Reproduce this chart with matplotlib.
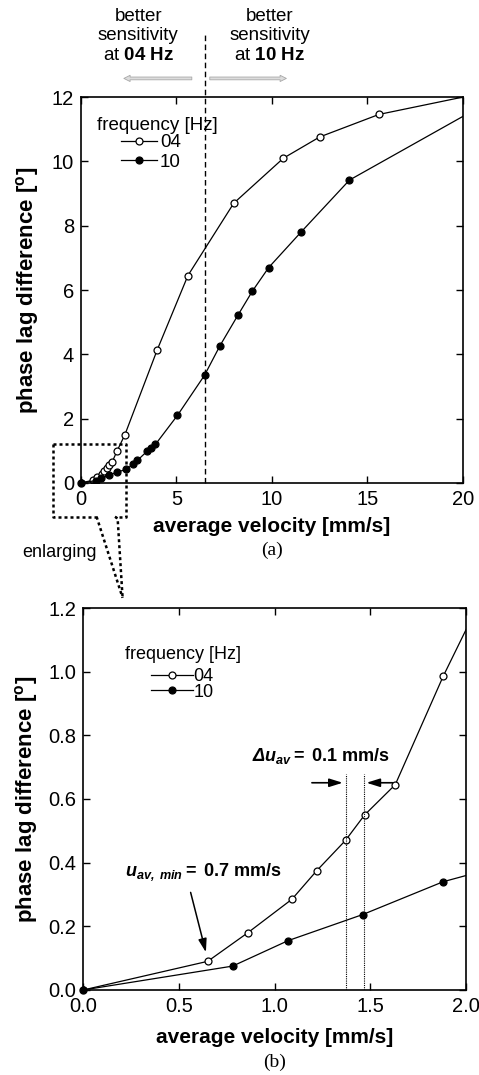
import matplotlib
matplotlib.use("Agg")
import matplotlib.pyplot as plt
from matplotlib.lines import Line2D

plt.rcParams['font.family'] = ['Liberation Sans', 'DejaVu Sans']
plt.rcParams['mathtext.fontset'] = 'custom'
plt.rcParams['mathtext.rm'] = 'Liberation Sans'
plt.rcParams['mathtext.it'] = 'Liberation Sans:italic'
plt.rcParams['mathtext.bf'] = 'Liberation Sans:bold'
plt.rcParams['mathtext.bfit'] = 'Liberation Sans:italic:bold'

# ---- data ----
vel_04 = [0.0, 0.65, 0.86, 1.09, 1.22, 1.37, 1.47, 1.63, 1.88, 2.3, 4.0, 5.6, 8.0, 10.6, 12.5, 15.6, 20.0]
lag_04 = [0.0, 0.09, 0.18, 0.285, 0.375, 0.47, 0.55, 0.645, 0.985, 1.5, 4.15, 6.45, 8.7, 10.1, 10.76, 11.46, 12.0]
vel_10 = [0.0, 0.78, 1.07, 1.46, 1.88, 2.37, 2.75, 2.95, 3.45, 3.65, 3.9, 5.05, 6.47, 7.28, 8.22, 8.98, 9.83, 11.52, 14.06, 20.0]
lag_10 = [0.0, 0.075, 0.155, 0.237, 0.34, 0.42, 0.6, 0.7, 0.98, 1.08, 1.2, 2.1, 3.35, 4.27, 5.22, 5.97, 6.7, 7.8, 9.42, 11.4]
labels = ["04", "10"]

xticks_a = [0, 5, 10, 15, 20]
yticks_a = [0, 2, 4, 6, 8, 10, 12]
xticks_b = [0.0, 0.5, 1.0, 1.5, 2.0]
yticks_b = [0.0, 0.2, 0.4, 0.6, 0.8, 1.0, 1.2]

v_crit = 6.47          # crossover velocity (dashed line)
v_pair = [1.37, 1.465]  # delta u_av vertical lines

fig = plt.figure(figsize=(4.79, 10.75), dpi=100)
axA = fig.add_axes([0.169, 0.5507, 0.7975, 0.359])
axB = fig.add_axes([0.174, 0.0791, 0.799, 0.3553])

FS = 14.5
mk = dict(markersize=5, markeredgewidth=0.9, color='black', lw=0.9)

def style(ax, xt, yt, fmt, xpad, ypad):
    ax.set_xticks(xt)
    ax.set_yticks(yt)
    ax.set_xticklabels([fmt.format(v) for v in xt])
    ax.set_yticklabels([fmt.format(v) for v in yt])
    ax.tick_params(direction='in', top=True, right=True, length=5, width=1,
                   labelsize=FS, pad=5)
    for s in ax.spines.values():
        s.set_linewidth(1.2)
    ax.set_xlabel("average velocity [mm/s]", fontsize=15, fontweight='bold',
                  labelpad=xpad)
    ax.set_ylabel(r"phase lag difference [$^{\mathbf{o}}$]", fontsize=16,
                  fontweight='bold', labelpad=ypad)

for ax in (axA, axB):
    ax.plot(vel_04, lag_04, marker='o', markerfacecolor='white',
            markevery=list(range(len(vel_04) - 1)), clip_on=True, **mk)
    ax.plot(vel_10, lag_10, marker='o', markerfacecolor='black',
            markevery=list(range(len(vel_10) - 1)), clip_on=True, **mk)

axA.set_xlim(0, 20)
axA.set_ylim(0, 12)
axB.set_xlim(0, 2)
axB.set_ylim(0, 1.2)
style(axA, xticks_a, yticks_a, "{:g}", 6, 8)
style(axB, xticks_b, yticks_b, "{:.1f}", 9, 6)

# re-draw origin markers unclipped
for ax in (axA, axB):
    ax.plot([vel_04[0]], [lag_04[0]], 'o', markerfacecolor='black', markersize=5,
            color='black', clip_on=False, zorder=5)

# legends
leg_cfg = [
    # ax, title x, title y, anchor x, anchor y, fontsize, handlelength, pad, spacing
    (axA, 0.042, 0.927, 0.105, 0.904, 13.5, 1.92, 0.16, 0.12),
    (axB, 0.110, 0.877, 0.178, 0.842, 13.0, 2.28, 0.05, -0.1),
]
for ax, tx, ty, lx, ly, fs, hl, tp, ls in leg_cfg:
    ax.text(tx, ty, "frequency [Hz]", transform=ax.transAxes, fontsize=fs,
            va='center', ha='left')
    h = [Line2D([], [], marker='o', markerfacecolor='white', **mk),
         Line2D([], [], marker='o', markerfacecolor='black', **mk)]
    ax.legend(h, labels, loc='upper left', bbox_to_anchor=(lx, ly),
              frameon=False, fontsize=fs, handlelength=hl, handletextpad=tp,
              labelspacing=ls, borderpad=0, borderaxespad=0)

# --- panel (a) annotations ---
axA.plot([v_crit, v_crit], [0, 14.0], ls=(0, (4, 2.5)), color='black', lw=1.0,
         clip_on=False)
for xc, bold in ((3.0, "04"), (9.9, "10")):
    axA.text(xc, 14.38, "better", ha='center', va='baseline', fontsize=13.5)
    axA.text(xc, 13.78, "sensitivity", ha='center', va='baseline', fontsize=13.5)
    axA.text(xc, 13.14, r"at $\mathbf{" + bold + r"\ Hz}$", ha='center',
             va='baseline', fontsize=13.5)
arr = dict(arrowstyle='simple,head_width=0.45,head_length=0.45,tail_width=0.2',
           facecolor='#dcdcdc', edgecolor='#a8a8a8', lw=0.6)
axA.annotate("", xy=(2.1, 12.58), xytext=(5.95, 12.58), arrowprops=arr,
             annotation_clip=False)
axA.annotate("", xy=(10.9, 12.58), xytext=(6.6, 12.58), arrowprops=arr,
             annotation_clip=False)

# dotted enlarging box
dot = dict(ls=(0, (1.2, 1.2)), color='black', lw=1.8, clip_on=False)
axA.plot([-1.45, 2.35, 2.35, 1.78], [1.22, 1.22, -1.05, -1.05], **dot)
axA.plot([-1.45, -1.45, 0.82], [1.22, -1.05, -1.05], **dot)
axA.plot([0.82, 2.18], [-1.05, -3.57], **dot)
axA.plot([1.78, 1.92, 2.18], [-1.05, -1.1, -3.57], **dot)
axA.text(-3.05, -2.17, "enlarging", fontsize=13, ha='left', va='center')
axA.text(0.5, -0.175, "(a)", transform=axA.transAxes, ha='center', va='center',
         fontsize=14, family='Liberation Serif')

# --- panel (b) annotations ---
for v in v_pair:
    axB.plot([v, v], [0, 0.68], ls=(0, (1, 1)), color='black', lw=0.8)
ar2 = dict(arrowstyle='-|>,head_width=0.25,head_length=0.8', color='black', lw=1.2)
axB.annotate("", xy=(v_pair[0], 0.651), xytext=(1.18, 0.651), arrowprops=ar2)
axB.annotate("", xy=(v_pair[1], 0.651), xytext=(1.63, 0.651), arrowprops=ar2)
axB.text(1.24, 0.734, r"$\mathbfit{\Delta u}_{\mathbfit{av}}\mathbf{=\ 0.1\ mm/s}$",
         ha='center', va='center', fontsize=13)
axB.text(0.63, 0.372, r"$\mathbfit{u}_{\mathbfit{av,\ min}}\mathbf{=\ 0.7\ mm/s}$",
         ha='center', va='center', fontsize=13)
axB.annotate("", xy=(0.644, 0.11), xytext=(0.557, 0.315),
             arrowprops=dict(arrowstyle='-|>,head_width=0.25,head_length=0.8',
                             color='black', lw=1.1))
axB.text(0.5, -0.19, "(b)", transform=axB.transAxes, ha='center', va='center',
         fontsize=14, family='Liberation Serif')

fig.savefig("out.png", dpi=100)
